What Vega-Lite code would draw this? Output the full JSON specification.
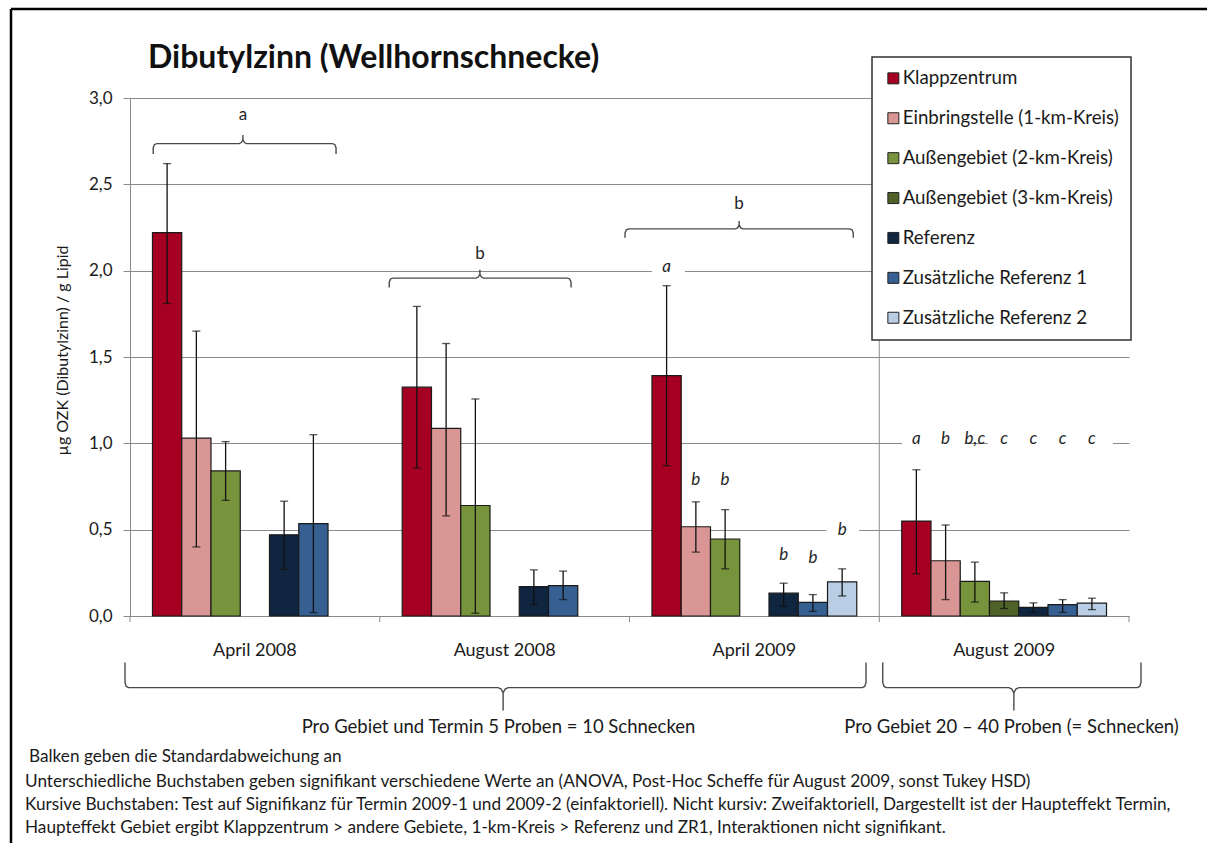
{
  "$schema": "https://vega.github.io/schema/vega-lite/v6.json",
  "width": 999,
  "height": 518,
  "autosize": {"type": "none"},
  "padding": {"left": 130, "top": 98, "right": 78, "bottom": 227},
  "title": {"text": "Dibutylzinn (Wellhornschnecke)", "anchor": "start", "frame": "group", "font": "Lato", "fontSize": 32, "fontWeight": "bold", "color": "#111111", "offset": -67, "dx": 18},
  "datasets": {
    "bars": [
      {"term": "April 2008", "series": "Klappzentrum", "value": 2.22, "lo": 1.81, "hi": 2.62},
      {"term": "April 2008", "series": "Einbringstelle (1-km-Kreis)", "value": 1.03, "lo": 0.40, "hi": 1.65},
      {"term": "April 2008", "series": "Außengebiet (2-km-Kreis)", "value": 0.84, "lo": 0.67, "hi": 1.01},
      {"term": "April 2008", "series": "Referenz", "value": 0.47, "lo": 0.27, "hi": 0.665},
      {"term": "April 2008", "series": "Zusätzliche Referenz 1", "value": 0.535, "lo": 0.02, "hi": 1.05},
      {"term": "August 2008", "series": "Klappzentrum", "value": 1.325, "lo": 0.857, "hi": 1.793},
      {"term": "August 2008", "series": "Einbringstelle (1-km-Kreis)", "value": 1.087, "lo": 0.58, "hi": 1.578},
      {"term": "August 2008", "series": "Außengebiet (2-km-Kreis)", "value": 0.64, "lo": 0.016, "hi": 1.257},
      {"term": "August 2008", "series": "Referenz", "value": 0.17, "lo": 0.066, "hi": 0.267},
      {"term": "August 2008", "series": "Zusätzliche Referenz 1", "value": 0.176, "lo": 0.095, "hi": 0.26},
      {"term": "April 2009", "series": "Klappzentrum", "value": 1.392, "lo": 0.87, "hi": 1.913},
      {"term": "April 2009", "series": "Einbringstelle (1-km-Kreis)", "value": 0.517, "lo": 0.37, "hi": 0.661},
      {"term": "April 2009", "series": "Außengebiet (2-km-Kreis)", "value": 0.446, "lo": 0.273, "hi": 0.616},
      {"term": "April 2009", "series": "Referenz", "value": 0.132, "lo": 0.056, "hi": 0.19},
      {"term": "April 2009", "series": "Zusätzliche Referenz 1", "value": 0.079, "lo": 0.027, "hi": 0.124},
      {"term": "April 2009", "series": "Zusätzliche Referenz 2", "value": 0.198, "lo": 0.116, "hi": 0.273},
      {"term": "August 2009", "series": "Klappzentrum", "value": 0.55, "lo": 0.244, "hi": 0.847},
      {"term": "August 2009", "series": "Einbringstelle (1-km-Kreis)", "value": 0.32, "lo": 0.095, "hi": 0.527},
      {"term": "August 2009", "series": "Außengebiet (2-km-Kreis)", "value": 0.2, "lo": 0.081, "hi": 0.312},
      {"term": "August 2009", "series": "Außengebiet (3-km-Kreis)", "value": 0.087, "lo": 0.043, "hi": 0.134},
      {"term": "August 2009", "series": "Referenz", "value": 0.05, "lo": 0.021, "hi": 0.076},
      {"term": "August 2009", "series": "Zusätzliche Referenz 1", "value": 0.066, "lo": 0.021, "hi": 0.095},
      {"term": "August 2009", "series": "Zusätzliche Referenz 2", "value": 0.074, "lo": 0.037, "hi": 0.103}
    ],
    "barLetters": [
      {"term": "April 2009", "series": "Klappzentrum", "label": "a", "v": 1.99},
      {"term": "April 2009", "series": "Einbringstelle (1-km-Kreis)", "label": "b", "v": 0.759},
      {"term": "April 2009", "series": "Außengebiet (2-km-Kreis)", "label": "b", "v": 0.759},
      {"term": "April 2009", "series": "Referenz", "label": "b", "v": 0.324},
      {"term": "April 2009", "series": "Zusätzliche Referenz 1", "label": "b", "v": 0.305},
      {"term": "April 2009", "series": "Zusätzliche Referenz 2", "label": "b", "v": 0.469},
      {"term": "August 2009", "series": "Klappzentrum", "label": "a", "v": 0.996},
      {"term": "August 2009", "series": "Einbringstelle (1-km-Kreis)", "label": "b", "v": 0.996},
      {"term": "August 2009", "series": "Außengebiet (2-km-Kreis)", "label": "b,c", "v": 0.996},
      {"term": "August 2009", "series": "Außengebiet (3-km-Kreis)", "label": "c", "v": 0.996},
      {"term": "August 2009", "series": "Referenz", "label": "c", "v": 0.996},
      {"term": "August 2009", "series": "Zusätzliche Referenz 1", "label": "c", "v": 0.996},
      {"term": "August 2009", "series": "Zusätzliche Referenz 2", "label": "c", "v": 0.996}
    ],
    "gaps": [
      {"u1": 2.090, "u2": 2.222, "v1": 2.0, "v2": 2.0},
      {"u1": 2.789, "u2": 2.919, "v1": 0.5, "v2": 0.5},
      {"u1": 3.091, "u2": 3.343, "v1": 1.0, "v2": 1.0},
      {"u1": 3.435, "u2": 3.936, "v1": 1.0, "v2": 1.0}
    ],
    "grayLines": [
      {"u1": 3, "u2": 3, "v1": -0.035, "v2": 3.0},
      {"u1": 0, "u2": 0, "v1": -0.035, "v2": 0},
      {"u1": 1, "u2": 1, "v1": -0.035, "v2": 0},
      {"u1": 2, "u2": 2, "v1": -0.035, "v2": 0},
      {"u1": 4, "u2": 4, "v1": -0.035, "v2": 0}
    ],
    "border": [
      {"u1": -0.4765, "u2": 4.33, "v1": 3.5154, "v2": 3.5154},
      {"u1": -0.4765, "u2": -0.4765, "v1": -1.33, "v2": 3.5154}
    ],
    "braces": [
      {"b": "A", "i": 1, "u": 0.093, "v": 2.675}, {"b": "A", "i": 2, "u": 0.093, "v": 2.712}, {"b": "A", "i": 3, "u": 0.098, "v": 2.731}, {"b": "A", "i": 4, "u": 0.108, "v": 2.736},
      {"b": "A", "i": 5, "u": 0.437, "v": 2.736}, {"b": "A", "i": 6, "u": 0.446, "v": 2.742}, {"b": "A", "i": 7, "u": 0.452, "v": 2.760}, {"b": "A", "i": 8, "u": 0.452, "v": 2.786},
      {"b": "A", "i": 9, "u": 0.452, "v": 2.760}, {"b": "A", "i": 10, "u": 0.458, "v": 2.742}, {"b": "A", "i": 11, "u": 0.467, "v": 2.736}, {"b": "A", "i": 12, "u": 0.810, "v": 2.736},
      {"b": "A", "i": 13, "u": 0.820, "v": 2.731}, {"b": "A", "i": 14, "u": 0.825, "v": 2.712}, {"b": "A", "i": 15, "u": 0.825, "v": 2.675},
      {"b": "B1", "i": 1, "u": 1.038, "v": 1.903}, {"b": "B1", "i": 2, "u": 1.038, "v": 1.933}, {"b": "B1", "i": 3, "u": 1.043, "v": 1.952}, {"b": "B1", "i": 4, "u": 1.053, "v": 1.957},
      {"b": "B1", "i": 5, "u": 1.386, "v": 1.957}, {"b": "B1", "i": 6, "u": 1.395, "v": 1.963}, {"b": "B1", "i": 7, "u": 1.401, "v": 1.981}, {"b": "B1", "i": 8, "u": 1.401, "v": 2.006},
      {"b": "B1", "i": 9, "u": 1.401, "v": 1.981}, {"b": "B1", "i": 10, "u": 1.407, "v": 1.963}, {"b": "B1", "i": 11, "u": 1.416, "v": 1.957}, {"b": "B1", "i": 12, "u": 1.751, "v": 1.957},
      {"b": "B1", "i": 13, "u": 1.761, "v": 1.952}, {"b": "B1", "i": 14, "u": 1.766, "v": 1.933}, {"b": "B1", "i": 15, "u": 1.766, "v": 1.903},
      {"b": "B2", "i": 1, "u": 1.982, "v": 2.19}, {"b": "B2", "i": 2, "u": 1.982, "v": 2.218}, {"b": "B2", "i": 3, "u": 1.987, "v": 2.237}, {"b": "B2", "i": 4, "u": 1.997, "v": 2.242},
      {"b": "B2", "i": 5, "u": 2.424, "v": 2.242}, {"b": "B2", "i": 6, "u": 2.433, "v": 2.248}, {"b": "B2", "i": 7, "u": 2.439, "v": 2.266}, {"b": "B2", "i": 8, "u": 2.439, "v": 2.287},
      {"b": "B2", "i": 9, "u": 2.439, "v": 2.266}, {"b": "B2", "i": 10, "u": 2.445, "v": 2.248}, {"b": "B2", "i": 11, "u": 2.454, "v": 2.242}, {"b": "B2", "i": 12, "u": 2.881, "v": 2.242},
      {"b": "B2", "i": 13, "u": 2.891, "v": 2.237}, {"b": "B2", "i": 14, "u": 2.896, "v": 2.218}, {"b": "B2", "i": 15, "u": 2.896, "v": 2.19},
      {"b": "C", "i": 1, "u": -0.02, "v": -0.27}, {"b": "C", "i": 2, "u": -0.02, "v": -0.385}, {"b": "C", "i": 3, "u": -0.015, "v": -0.408}, {"b": "C", "i": 4, "u": -0.005, "v": -0.415},
      {"b": "C", "i": 5, "u": 1.474, "v": -0.415}, {"b": "C", "i": 6, "u": 1.486, "v": -0.423}, {"b": "C", "i": 7, "u": 1.494, "v": -0.445}, {"b": "C", "i": 8, "u": 1.494, "v": -0.548},
      {"b": "C", "i": 9, "u": 1.494, "v": -0.445}, {"b": "C", "i": 10, "u": 1.502, "v": -0.423}, {"b": "C", "i": 11, "u": 1.514, "v": -0.415}, {"b": "C", "i": 12, "u": 2.932, "v": -0.415},
      {"b": "C", "i": 13, "u": 2.942, "v": -0.408}, {"b": "C", "i": 14, "u": 2.947, "v": -0.385}, {"b": "C", "i": 15, "u": 2.947, "v": -0.27},
      {"b": "D", "i": 1, "u": 3.014, "v": -0.27}, {"b": "D", "i": 2, "u": 3.014, "v": -0.385}, {"b": "D", "i": 3, "u": 3.019, "v": -0.408}, {"b": "D", "i": 4, "u": 3.029, "v": -0.415},
      {"b": "D", "i": 5, "u": 3.519, "v": -0.415}, {"b": "D", "i": 6, "u": 3.531, "v": -0.423}, {"b": "D", "i": 7, "u": 3.539, "v": -0.445}, {"b": "D", "i": 8, "u": 3.539, "v": -0.548},
      {"b": "D", "i": 9, "u": 3.539, "v": -0.445}, {"b": "D", "i": 10, "u": 3.547, "v": -0.423}, {"b": "D", "i": 11, "u": 3.559, "v": -0.415}, {"b": "D", "i": 12, "u": 4.033, "v": -0.415},
      {"b": "D", "i": 13, "u": 4.043, "v": -0.408}, {"b": "D", "i": 14, "u": 4.048, "v": -0.385}, {"b": "D", "i": 15, "u": 4.048, "v": -0.27}
    ],
    "groupLetters": [
      {"label": "a", "u": 0.452, "v": 2.872},
      {"label": "b", "u": 1.401, "v": 2.068},
      {"label": "b", "u": 2.439, "v": 2.358}
    ],
    "notes": [
      {"text": "Pro Gebiet und Termin 5 Proben = 10 Schnecken", "u": 1.4755, "v": -0.643},
      {"text": "Pro Gebiet 20 – 40 Proben (= Schnecken)", "u": 3.5295, "v": -0.643}
    ],
    "footnotes": [
      {"text": "Balken geben die Standardabweichung an", "u": -0.4044, "v": -0.8166},
      {"text": "Unterschiedliche Buchstaben geben signifikant verschiedene Werte an (ANOVA, Post-Hoc Scheffe für August 2009, sonst Tukey HSD)", "u": -0.4204, "v": -0.960},
      {"text": "Kursive Buchstaben: Test auf Signifikanz für Termin 2009-1  und 2009-2  (einfaktoriell). Nicht kursiv: Zweifaktoriell, Dargestellt ist der Haupteffekt Termin,", "u": -0.4204, "v": -1.0946},
      {"text": "Haupteffekt Gebiet ergibt Klappzentrum > andere Gebiete, 1-km-Kreis > Referenz und ZR1, Interaktionen nicht signifikant.", "u": -0.4204, "v": -1.2278}
    ]
  },
  "layer": [
    {
      "layer": [
        {
          "data": {"name": "bars"},
          "mark": {"type": "bar", "stroke": "#1a1a1a", "strokeWidth": 1.2},
          "encoding": {
            "x": {"field": "term", "type": "nominal", "sort": null,
              "scale": {"type": "band", "domain": ["April 2008", "August 2008", "April 2009", "August 2009"], "paddingInner": 0.18, "paddingOuter": 0.09},
              "axis": {"title": null, "ticks": false, "grid": false, "domainColor": "#8a8a8a", "labelFontSize": 18, "labelColor": "#1a1a1a", "labelPadding": 39, "labelBaseline": "alphabetic", "labelAngle": 0}},
            "xOffset": {"field": "series", "type": "nominal",
              "scale": {"type": "band", "domain": ["Klappzentrum", "Einbringstelle (1-km-Kreis)", "Außengebiet (2-km-Kreis)", "Außengebiet (3-km-Kreis)", "Referenz", "Zusätzliche Referenz 1", "Zusätzliche Referenz 2"], "paddingInner": 0, "paddingOuter": 0}},
            "y": {"field": "value", "type": "quantitative", "title": "µg OZK (Dibutylzinn) / g Lipid",
              "scale": {"domain": [0, 3], "nice": false},
              "axis": {"tickCount": 6, "format": ".1f", "labelExpr": "replace(datum.label, '.', ',')", "labelFontSize": 17, "labelColor": "#1a1a1a", "labelPadding": 11, "tickSize": 7, "tickColor": "#8a8a8a", "domainColor": "#8a8a8a", "gridColor": "#8a8a8a", "grid": true, "titleFontSize": 16, "titleFontWeight": "normal", "titleColor": "#1a1a1a", "titleX": -68, "titleY": 252, "titleAngle": -90, "titleAlign": "center", "titleBaseline": "middle"}},
            "color": {"field": "series", "type": "nominal",
              "scale": {"domain": ["Klappzentrum", "Einbringstelle (1-km-Kreis)", "Außengebiet (2-km-Kreis)", "Außengebiet (3-km-Kreis)", "Referenz", "Zusätzliche Referenz 1", "Zusätzliche Referenz 2"], "range": ["#A50021", "#DA9694", "#77933C", "#4F6228", "#10253F", "#366092", "#B9CDE5"]},
              "legend": {"title": null}}
          }
        },
        {
          "data": {"name": "bars"},
          "mark": {"type": "rule", "color": "#111111", "strokeWidth": 1.3},
          "encoding": {
            "x": {"field": "term", "type": "nominal", "sort": null, "scale": {"type": "band", "domain": ["April 2008", "August 2008", "April 2009", "August 2009"], "paddingInner": 0.18, "paddingOuter": 0.09}},
            "xOffset": {"field": "series", "type": "nominal", "scale": {"type": "band", "domain": ["Klappzentrum", "Einbringstelle (1-km-Kreis)", "Außengebiet (2-km-Kreis)", "Außengebiet (3-km-Kreis)", "Referenz", "Zusätzliche Referenz 1", "Zusätzliche Referenz 2"], "paddingInner": 0, "paddingOuter": 0}},
            "y": {"field": "lo", "type": "quantitative", "scale": {"domain": [0, 3], "nice": false}},
            "y2": {"field": "hi"}
          }
        },
        {
          "data": {"name": "bars"},
          "mark": {"type": "tick", "color": "#111111", "thickness": 1.3, "size": 8},
          "encoding": {
            "x": {"field": "term", "type": "nominal", "sort": null, "scale": {"type": "band", "domain": ["April 2008", "August 2008", "April 2009", "August 2009"], "paddingInner": 0.18, "paddingOuter": 0.09}},
            "xOffset": {"field": "series", "type": "nominal", "scale": {"type": "band", "domain": ["Klappzentrum", "Einbringstelle (1-km-Kreis)", "Außengebiet (2-km-Kreis)", "Außengebiet (3-km-Kreis)", "Referenz", "Zusätzliche Referenz 1", "Zusätzliche Referenz 2"], "paddingInner": 0, "paddingOuter": 0}},
            "y": {"field": "lo", "type": "quantitative", "scale": {"domain": [0, 3], "nice": false}}
          }
        },
        {
          "data": {"name": "bars"},
          "mark": {"type": "tick", "color": "#111111", "thickness": 1.3, "size": 8},
          "encoding": {
            "x": {"field": "term", "type": "nominal", "sort": null, "scale": {"type": "band", "domain": ["April 2008", "August 2008", "April 2009", "August 2009"], "paddingInner": 0.18, "paddingOuter": 0.09}},
            "xOffset": {"field": "series", "type": "nominal", "scale": {"type": "band", "domain": ["Klappzentrum", "Einbringstelle (1-km-Kreis)", "Außengebiet (2-km-Kreis)", "Außengebiet (3-km-Kreis)", "Referenz", "Zusätzliche Referenz 1", "Zusätzliche Referenz 2"], "paddingInner": 0, "paddingOuter": 0}},
            "y": {"field": "hi", "type": "quantitative", "scale": {"domain": [0, 3], "nice": false}}
          }
        }
      ]
    },
    {
      "layer": [
        {
          "data": {"name": "gaps"},
          "mark": {"type": "rule", "color": "white", "strokeWidth": 3},
          "encoding": {
            "x": {"field": "u1", "type": "quantitative", "scale": {"domain": [0, 4], "nice": false, "zero": false}, "axis": null},
            "x2": {"field": "u2"},
            "y": {"field": "v1", "type": "quantitative", "scale": {"domain": [0, 3], "nice": false}},
            "y2": {"field": "v2"}
          }
        },
        {
          "data": {"name": "grayLines"},
          "mark": {"type": "rule", "color": "#8a8a8a", "strokeWidth": 1},
          "encoding": {
            "x": {"field": "u1", "type": "quantitative", "scale": {"domain": [0, 4], "nice": false, "zero": false}, "axis": null},
            "x2": {"field": "u2"},
            "y": {"field": "v1", "type": "quantitative", "scale": {"domain": [0, 3], "nice": false}},
            "y2": {"field": "v2"}
          }
        },
        {
          "data": {"name": "border"},
          "mark": {"type": "rule", "color": "#000000", "strokeWidth": 2.5},
          "encoding": {
            "x": {"field": "u1", "type": "quantitative", "scale": {"domain": [0, 4], "nice": false, "zero": false}, "axis": null},
            "x2": {"field": "u2"},
            "y": {"field": "v1", "type": "quantitative", "scale": {"domain": [0, 3], "nice": false}},
            "y2": {"field": "v2"}
          }
        },
        {
          "data": {"name": "braces"},
          "mark": {"type": "line", "color": "#4a4a4a", "strokeWidth": 1.4},
          "encoding": {
            "x": {"field": "u", "type": "quantitative", "scale": {"domain": [0, 4], "nice": false, "zero": false}, "axis": null},
            "y": {"field": "v", "type": "quantitative", "scale": {"domain": [0, 3], "nice": false}},
            "detail": {"field": "b", "type": "nominal"},
            "order": {"field": "i", "type": "quantitative"}
          }
        },
        {
          "data": {"name": "groupLetters"},
          "mark": {"type": "text", "font": "Lato", "fontSize": 17, "align": "center", "baseline": "alphabetic", "color": "#1f1f1f"},
          "encoding": {
            "x": {"field": "u", "type": "quantitative", "scale": {"domain": [0, 4], "nice": false, "zero": false}, "axis": null},
            "y": {"field": "v", "type": "quantitative", "scale": {"domain": [0, 3], "nice": false}},
            "text": {"field": "label"}
          }
        },
        {
          "data": {"name": "notes"},
          "mark": {"type": "text", "font": "Lato", "fontSize": 18.5, "align": "center", "baseline": "middle", "color": "#1a1a1a"},
          "encoding": {
            "x": {"field": "u", "type": "quantitative", "scale": {"domain": [0, 4], "nice": false, "zero": false}, "axis": null},
            "y": {"field": "v", "type": "quantitative", "scale": {"domain": [0, 3], "nice": false}},
            "text": {"field": "text"}
          }
        },
        {
          "data": {"name": "footnotes"},
          "mark": {"type": "text", "font": "Lato", "fontSize": 17.2, "align": "left", "baseline": "middle", "color": "#1a1a1a"},
          "encoding": {
            "x": {"field": "u", "type": "quantitative", "scale": {"domain": [0, 4], "nice": false, "zero": false}, "axis": null},
            "y": {"field": "v", "type": "quantitative", "scale": {"domain": [0, 3], "nice": false}},
            "text": {"field": "text"}
          }
        }
      ]
    },
    {
      "data": {"name": "barLetters"},
      "mark": {"type": "text", "font": "Lato", "fontSize": 17, "fontStyle": "italic", "align": "center", "baseline": "alphabetic", "color": "#1f1f1f"},
      "encoding": {
        "x": {"field": "term", "type": "nominal", "sort": null, "scale": {"type": "band", "domain": ["April 2008", "August 2008", "April 2009", "August 2009"], "paddingInner": 0.18, "paddingOuter": 0.09}, "axis": null},
        "xOffset": {"field": "series", "type": "nominal", "scale": {"type": "band", "domain": ["Klappzentrum", "Einbringstelle (1-km-Kreis)", "Außengebiet (2-km-Kreis)", "Außengebiet (3-km-Kreis)", "Referenz", "Zusätzliche Referenz 1", "Zusätzliche Referenz 2"], "paddingInner": 0, "paddingOuter": 0}},
        "y": {"field": "v", "type": "quantitative", "scale": {"domain": [0, 3], "nice": false}},
        "text": {"field": "label"}
      }
    }
  ],
  "resolve": {"scale": {"x": "independent", "xOffset": "independent"}, "axis": {"x": "independent"}},
  "config": {
    "view": {"stroke": null},
    "font": "Lato",
    "legend": {"orient": "none", "legendX": 742, "legendY": -41, "fillColor": "white", "strokeColor": "#333333", "strokeWidth": 1.5, "padding": 12, "symbolType": "square", "symbolSize": 121, "symbolStrokeColor": "#222222", "symbolStrokeWidth": 1, "labelFont": "Lato", "labelFontSize": 18.7, "labelColor": "#1a1a1a", "rowPadding": 19.9, "labelOffset": 0, "labelLimit": 400}
  }
}
